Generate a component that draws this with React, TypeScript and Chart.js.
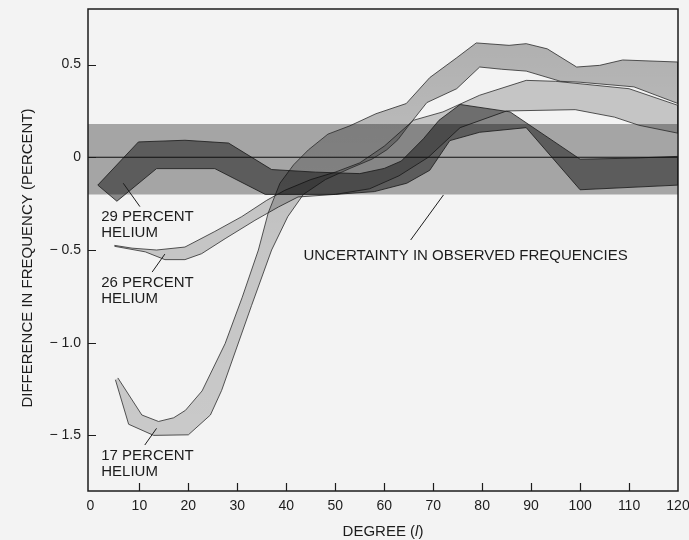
import React, { useEffect, useRef } from "react";
import { Chart, registerables } from "chart.js";

Chart.register(...registerables);

type Pt = [number, number];

// Axis extents and tick values
const degreeMin = -0.5;
const degreeMax = 120;
const diffMin = -1.8;
const diffMax = 0.8;
const degreeTicks = [0, 10, 20, 30, 40, 50, 60, 70, 80, 90, 100, 110, 120];
const diffTicks = [-1.5, -1.0, -0.5, 0, 0.5];

// Uncertainty in the observed frequencies (percent)
const uncertaintyHigh = 0.18;
const uncertaintyLow = -0.2;

// Model bands, [degree, difference in percent] along each edge, left to right
const helium29Upper: Pt[] = [
  [1.5, -0.15], [9.8, 0.083], [19.3, 0.092], [28.2, 0.077], [37, -0.066],
  [46, -0.08], [55, -0.088], [60, -0.06], [63.5, -0.02], [68, 0.1],
  [71.2, 0.2], [75.5, 0.285], [85.7, 0.245], [100, -0.01], [110, -0.005], [120, 0.005],
];
const helium29Lower: Pt[] = [
  [1.5, -0.15], [5.4, -0.237], [13.5, -0.061], [25.4, -0.061], [35.7, -0.2],
  [50, -0.2], [58, -0.185], [64.6, -0.14], [69.3, -0.07], [73.4, 0.09],
  [79.5, 0.135], [89, 0.16], [100, -0.175], [120, -0.15],
];

const helium26Upper: Pt[] = [
  [4.9, -0.475], [8.5, -0.49], [13.5, -0.5], [19.3, -0.484], [25.4, -0.4],
  [30.9, -0.32], [36, -0.232], [39.7, -0.178], [45, -0.12], [50, -0.08],
  [55, -0.03], [60, 0.06], [66, 0.2], [72, 0.245], [79.5, 0.335],
  [89, 0.415], [95, 0.41], [110, 0.37], [120, 0.28],
];
const helium26Lower: Pt[] = [
  [4.9, -0.48], [11.2, -0.51], [15.2, -0.552], [19.3, -0.552], [22.7, -0.52],
  [27.5, -0.439], [33.6, -0.34], [38.4, -0.268], [42.4, -0.214], [50, -0.2],
  [57, -0.17], [63, -0.1], [69, 0.0], [75.5, 0.16], [85, 0.25],
  [99, 0.257], [107, 0.217], [112, 0.173], [120, 0.13],
];

const helium17Upper: Pt[] = [
  [5.6, -1.19], [10.5, -1.39], [13.9, -1.425], [17, -1.405], [19.4, -1.365],
  [22.8, -1.26], [27.5, -1.005], [31, -0.755], [34.3, -0.5], [36.3, -0.3],
  [38.7, -0.14], [41.5, -0.04], [44.5, 0.04], [48.5, 0.125], [53, 0.17],
  [58.3, 0.235], [64.5, 0.29], [69.3, 0.43], [74.8, 0.537], [78.8, 0.617],
  [85.5, 0.604], [89, 0.613], [93.3, 0.585], [99.3, 0.487], [104, 0.496],
  [108.7, 0.525], [120, 0.514],
];
const helium17Lower: Pt[] = [
  [5.1, -1.2], [7.8, -1.44], [12.9, -1.5], [20, -1.497], [24.5, -1.39],
  [26.8, -1.257], [32.9, -0.8], [37, -0.5], [40.3, -0.32], [43.5, -0.2],
  [48, -0.12], [53, -0.06], [57.5, -0.01], [60.5, 0.04], [62.8, 0.095],
  [64.8, 0.165], [68.7, 0.295], [74.8, 0.37], [79.5, 0.487], [84, 0.475],
  [89, 0.465], [96, 0.41], [100, 0.405], [111, 0.38], [120, 0.29],
];

// Text
const label29 = ["29 PERCENT", "HELIUM"];
const label26 = ["26 PERCENT", "HELIUM"];
const label17 = ["17 PERCENT", "HELIUM"];
const uncertaintyLabel = "UNCERTAINTY IN OBSERVED FREQUENCIES";
const xTitleParts = ["DEGREE (", "l", ")"];
const yTitle = "DIFFERENCE IN FREQUENCY (PERCENT)";

// Where each note sits (degree, difference) and its leader line
const notes = [
  { lines: label29, at: [2.2, -0.344] as Pt, leader: [[6.7, -0.14], [10.1, -0.266]] as Pt[] },
  { lines: label26, at: [2.2, -0.698] as Pt, leader: [[15.2, -0.522], [12.6, -0.619]] as Pt[] },
  { lines: label17, at: [2.2, -1.633] as Pt, leader: [[13.5, -1.462], [11.1, -1.552]] as Pt[] },
  { lines: [uncertaintyLabel], at: [43.5, -0.554] as Pt, leader: [[72.1, -0.203], [65.4, -0.446]] as Pt[] },
];

const PAPER = "#f3f3f3";
const INK = "#1c1c1c";
const FONT = '"Liberation Sans", Arial, Helvetica, sans-serif';

const toXY = (pts: Pt[]) => pts.map(([x, y]) => ({ x, y }));
const outline = (upper: Pt[], lower: Pt[]) => toXY([...upper, ...lower.slice().reverse()]);

const band = (label: string, data: any[], fillColor: any, edgeColor: string, edgeWidth: number, order: number) => ({
  label,
  data,
  fill: "shape",
  backgroundColor: fillColor,
  borderColor: edgeColor,
  borderWidth: edgeWidth,
  pointRadius: 0,
  tension: 0,
  order,
});

// the 17 percent band prints lighter low on the page and darker near the top
const fadingGray = (c: any) => {
  const area = c.chart.chartArea;
  if (!area) return "rgba(0,0,0,0.21)";
  const g = c.chart.ctx.createLinearGradient(0, area.bottom, 0, area.top);
  g.addColorStop(0, "rgba(0,0,0,0.17)");
  g.addColorStop(0.5, "rgba(0,0,0,0.19)");
  g.addColorStop(1, "rgba(0,0,0,0.29)");
  return g;
};

const decor = {
  id: "decor",
  beforeDraw(chart: any) {
    const { ctx, width, height } = chart;
    ctx.save();
    ctx.fillStyle = PAPER;
    ctx.fillRect(0, 0, width, height);
    ctx.restore();
  },
  afterDraw(chart: any) {
    const { ctx, chartArea: a, scales } = chart;
    const xs = scales.x;
    const ys = scales.y;
    const px = (v: number) => xs.getPixelForValue(v);
    const py = (v: number) => ys.getPixelForValue(v);
    ctx.save();

    // frame
    ctx.strokeStyle = INK;
    ctx.lineWidth = 1.5;
    ctx.strokeRect(a.left, a.top, a.right - a.left, a.bottom - a.top);

    // tick marks pointing into the plot
    ctx.lineWidth = 1.2;
    ctx.beginPath();
    xs.ticks.forEach((t: any) => {
      if (t.value <= 0 || t.value >= degreeMax) return;
      const x = Math.round(px(t.value)) + 0.5;
      ctx.moveTo(x, a.bottom);
      ctx.lineTo(x, a.bottom - 8);
    });
    ys.ticks.forEach((t: any) => {
      const y = Math.round(py(t.value)) + 0.5;
      ctx.moveTo(a.left, y);
      ctx.lineTo(a.left + 8, y);
    });
    ctx.stroke();

    // notes and leader lines
    ctx.fillStyle = INK;
    ctx.font = `15px ${FONT}`;
    ctx.textAlign = "left";
    ctx.textBaseline = "alphabetic";
    ctx.lineWidth = 1;
    notes.forEach((n) => {
      const x0 = px(n.at[0]);
      const y0 = py(n.at[1]);
      n.lines.forEach((s, i) => ctx.fillText(s, x0, y0 + i * 16.3));
      ctx.beginPath();
      ctx.moveTo(px(n.leader[0][0]), py(n.leader[0][1]));
      ctx.lineTo(px(n.leader[1][0]), py(n.leader[1][1]));
      ctx.stroke();
    });

    // x axis title with italic l
    const cx = (a.left + a.right) / 2;
    const baseX = 536;
    const wA = ctx.measureText(xTitleParts[0]).width;
    const wC = ctx.measureText(xTitleParts[2]).width;
    ctx.font = `italic 15px ${FONT}`;
    const wB = ctx.measureText(xTitleParts[1]).width;
    let x = cx - (wA + wB + wC) / 2;
    ctx.font = `15px ${FONT}`;
    ctx.fillText(xTitleParts[0], x, baseX);
    x += wA;
    ctx.font = `italic 15px ${FONT}`;
    ctx.fillText(xTitleParts[1], x, baseX);
    x += wB;
    ctx.font = `15px ${FONT}`;
    ctx.fillText(xTitleParts[2], x, baseX);

    // y axis title
    ctx.save();
    ctx.translate(32, (a.top + a.bottom) / 2 + 8);
    ctx.rotate(-Math.PI / 2);
    ctx.textAlign = "center";
    ctx.fillText(yTitle, 0, 0);
    ctx.restore();

    ctx.restore();
  },
};

export default function App() {
  const ref = useRef<HTMLCanvasElement>(null);

  useEffect(() => {
    document.body.style.margin = "0";
    document.body.style.background = PAPER;

    const chart = new Chart(ref.current as HTMLCanvasElement, {
      type: "line",
      data: {
        datasets: [
          band("Uncertainty", toXY([[degreeMin, uncertaintyHigh], [degreeMax, uncertaintyHigh], [degreeMax, uncertaintyLow], [degreeMin, uncertaintyLow]]), "rgba(0,0,0,0.32)", "rgba(0,0,0,0)", 0, 6),
          band("26 percent helium", outline(helium26Upper, helium26Lower), "rgba(0,0,0,0.19)", "rgba(35,35,35,0.85)", 0.9, 5),
          band("17 percent helium", outline(helium17Upper, helium17Lower), fadingGray, "rgba(35,35,35,0.85)", 0.9, 4),
          band("29 percent helium", outline(helium29Upper, helium29Lower), "rgba(0,0,0,0.44)", "rgba(25,25,25,0.9)", 0.9, 3),
          {
            label: "Zero",
            data: toXY([[degreeMin, 0], [degreeMax, 0]]),
            borderColor: "#111",
            borderWidth: 1.1,
            pointRadius: 0,
            fill: false,
            order: 1,
          },
        ],
      },
      options: {
        responsive: false,
        animation: false,
        events: [],
        layout: { padding: { left: 0, top: 9, right: 11, bottom: 0 } },
        plugins: {
          legend: { display: false },
          tooltip: { enabled: false },
        },
        scales: {
          x: {
            type: "linear",
            min: degreeMin,
            max: degreeMax,
            border: { display: false },
            grid: { display: false, drawTicks: false },
            ticks: {
              autoSkip: false,
              maxRotation: 0,
              padding: 7,
              color: INK,
              font: { family: FONT, size: 14 },
              callback: (v: any) => String(v),
            },
            afterBuildTicks: (s: any) => {
              s.ticks = degreeTicks.map((value) => ({ value }));
            },
            afterFit: (s: any) => {
              s.height = 49;
              s.paddingLeft = 0;
              s.paddingRight = 0;
            },
          },
          y: {
            type: "linear",
            min: diffMin,
            max: diffMax,
            border: { display: false },
            grid: { display: false, drawTicks: false },
            ticks: {
              padding: 7,
              color: INK,
              font: { family: FONT, size: 14 },
              callback: (v: any) => (v === 0 ? "0" : (v < 0 ? "\u2212 " : "") + Math.abs(v).toFixed(1)),
            },
            afterBuildTicks: (s: any) => {
              s.ticks = diffTicks.map((value) => ({ value }));
            },
            afterFit: (s: any) => {
              s.width = 88;
              s.paddingTop = 0;
              s.paddingBottom = 0;
            },
          },
        },
      },
      plugins: [decor],
    } as any);

    return () => chart.destroy();
  }, []);

  return (
    <div style={{ width: 689, height: 540 }}>
      <canvas ref={ref} width={689} height={540} style={{ display: "block", width: 689, height: 540 }} />
    </div>
  );
}
